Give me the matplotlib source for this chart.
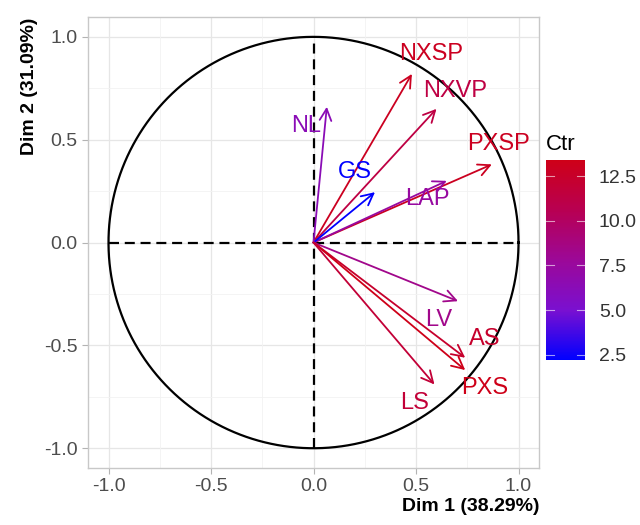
import numpy as np
import matplotlib.pyplot as plt
from matplotlib.colors import LinearSegmentedColormap, Normalize
from matplotlib.cm import ScalarMappable

plt.rcParams['font.family'] = ['Liberation Sans', 'DejaVu Sans']

# variable coordinates on Dim 1 / Dim 2 and their contribution (Ctr)
variables = ["NXSP", "NXVP", "PXSP", "LAP", "GS", "NL", "LV", "AS", "PXS", "LS"]
dim1 = [0.48, 0.60, 0.87, 0.65, 0.30, 0.065, 0.705, 0.74, 0.74, 0.59]
dim2 = [0.82, 0.65, 0.38, 0.30, 0.245, 0.66, -0.285, -0.56, -0.62, -0.69]
ctr = [13.0, 11.3, 13.0, 7.4, 2.2, 6.3, 8.3, 12.4, 13.4, 11.9]

# repelled label positions
label_pos = {
    "NXSP": (0.573, 0.917), "NXVP": (0.693, 0.739), "PXSP": (0.903, 0.48),
    "LAP": (0.556, 0.213), "GS": (0.204, 0.342), "NL": (-0.035, 0.565),
    "LV": (0.613, -0.377), "AS": (0.836, -0.467), "PXS": (0.836, -0.709),
    "LS": (0.491, -0.782),
}

cmap = LinearSegmentedColormap.from_list(
    "ctr", [(0, "#0000FF"), (0.25, "#7A10D0"), (0.5, "#9C0898"),
            (0.75, "#B80052"), (1, "#CE0018")])
norm = Normalize(vmin=2.2, vmax=13.4)

fig = plt.figure(figsize=(6.4, 5.25), dpi=100)
ax = fig.add_axes([0.1375, 0.109, 0.7047, 0.858])

# grid
for v in np.arange(-1.0, 1.01, 0.5):
    ax.axhline(v, color="#e6e6e6", lw=0.9, zorder=0)
    ax.axvline(v, color="#e6e6e6", lw=0.9, zorder=0)
for v in np.arange(-0.75, 0.76, 0.5):
    ax.axhline(v, color="#f2f2f2", lw=0.6, zorder=0)
    ax.axvline(v, color="#f2f2f2", lw=0.6, zorder=0)

t = np.linspace(0, 2 * np.pi, 400)
ax.plot(np.cos(t), np.sin(t), color="black", lw=1.6, zorder=1)
ax.plot([-1, 1], [0, 0], color="black", lw=1.6, ls=(0, (4.5, 2.6)), zorder=1)
ax.plot([0, 0], [-1, 1], color="black", lw=1.6, ls=(0, (4.5, 2.6)), zorder=1)

for name, x, y, c in zip(variables, dim1, dim2, ctr):
    col = cmap(norm(c))
    ax.annotate("", xy=(x, y), xytext=(0, 0),
                arrowprops=dict(arrowstyle="->,head_length=0.6,head_width=0.3",
                                color=col, lw=1.3, shrinkA=0, shrinkB=0,
                                mutation_scale=14), zorder=3)
    lx, ly = label_pos[name]
    ax.text(lx, ly, name, color=col, fontsize=17, ha="center", va="center", zorder=4)

ax.set_xlim(-1.1, 1.1)
ax.set_ylim(-1.095, 1.095)
ax.set_xticks([-1.0, -0.5, 0.0, 0.5, 1.0])
ax.set_yticks([-1.0, -0.5, 0.0, 0.5, 1.0])
ax.set_xticklabels(["-1.0", "-0.5", "0.0", "0.5", "1.0"])
ax.set_yticklabels(["-1.0", "-0.5", "0.0", "0.5", "1.0"])
ax.tick_params(colors="#b3b3b3", labelcolor="#4d4d4d", labelsize=14, length=4, width=0.8)
for s in ax.spines.values():
    s.set_color("#c8c8c8")
    s.set_linewidth(1.0)

ax.set_xlabel("Dim 1 (38.29%)", fontsize=14, fontweight="bold", loc="right", labelpad=2)
ax.set_ylabel("Dim 2 (31.09%)", fontsize=14, fontweight="bold", loc="top", labelpad=4)

# colorbar
cax = fig.add_axes([0.853, 0.314, 0.061, 0.381])
cb = fig.colorbar(ScalarMappable(norm=norm, cmap=cmap), cax=cax)
cb.set_ticks([2.5, 5.0, 7.5, 10.0, 12.5])
cb.set_ticklabels(["2.5", "5.0", "7.5", "10.0", "12.5"])
cb.outline.set_visible(False)
cax.tick_params(labelsize=14, labelcolor="#333333", length=0, pad=10)
for v in [2.5, 5.0, 7.5, 10.0, 12.5]:
    cax.plot([0, 0.2], [v, v], color="white", lw=0.8, alpha=0.6, transform=cax.get_yaxis_transform())
    cax.plot([0.8, 1.0], [v, v], color="white", lw=0.8, alpha=0.6, transform=cax.get_yaxis_transform())
fig.text(0.853, 0.725, "Ctr", fontsize=16, ha="left", va="center")

fig.savefig("out.png", dpi=100)
